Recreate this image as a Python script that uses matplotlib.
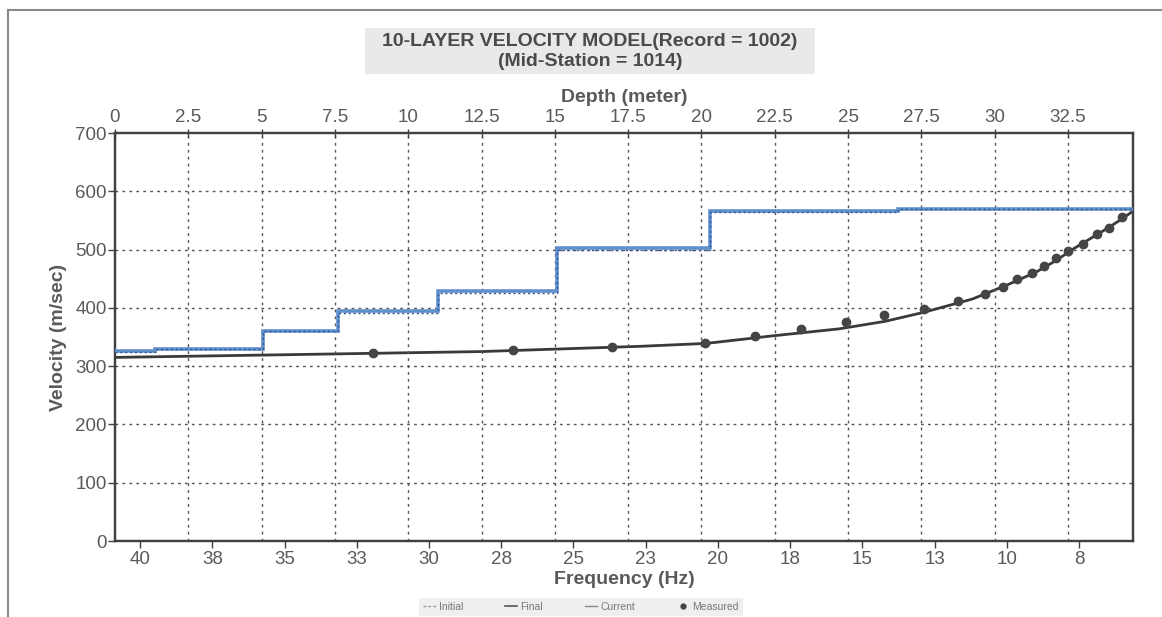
import matplotlib
matplotlib.use("Agg")
import matplotlib.pyplot as plt
from matplotlib.lines import Line2D
from matplotlib.patches import Rectangle

plt.rcParams['font.family'] = ['Liberation Sans', 'DejaVu Sans']

# ---- data ----
# layered velocity model (depth in m, velocity in m/s), steps-post
model_depth = [0, 1.36, 5.05, 7.6, 11.0, 15.07, 20.3, 26.7, 34.72]
final_vel = [326, 330, 361, 394, 429, 503, 566, 570, 570]
current_vel = [325, 329, 360, 391, 426, 500, 565, 569, 569]

# theoretical dispersion curve (frequency Hz, phase velocity m/s)
curve_freq = [40.87, 34.46, 28.2, 22.7, 20.4, 18.1, 15.8, 14.2, 12.9, 11.2,
              10.0, 9.0, 8.3, 7.7, 7.1, 6.5, 6.0, 5.63]
curve_vel = [315, 320, 325, 334, 339, 352, 364, 377, 392, 415,
             439, 461, 481, 501, 519, 537, 553, 566]

# measured dispersion points
meas_freq = [31.93, 27.09, 23.66, 20.44, 18.71, 17.12, 15.56, 14.25, 12.86,
             11.69, 10.75, 10.13, 9.64, 9.12, 8.71, 8.29, 7.88, 7.36, 6.87,
             6.46, 6.01]
meas_vel = [322, 327, 332, 339, 351, 363, 375, 387, 398, 411, 423, 436, 450,
            460, 471, 485, 497, 510, 526, 537, 556]

freq_ticks = [40, 37.5, 35, 32.5, 30, 27.5, 25, 22.5, 20, 17.5, 15, 12.5, 10, 7.5]
freq_labels = ['40', '38', '35', '33', '30', '28', '25', '23', '20', '18',
               '15', '13', '10', '8']
depth_ticks = [0, 2.5, 5, 7.5, 10, 12.5, 15, 17.5, 20, 22.5, 25, 27.5, 30, 32.5]
depth_labels = ['0', '2.5', '5', '7.5', '10', '12.5', '15', '17.5', '20',
                '22.5', '25', '27.5', '30', '32.5']
vel_ticks = [0, 100, 200, 300, 400, 500, 600, 700]

# ---- figure ----
W, H = 1162, 617
fig = plt.figure(figsize=(W / 100, H / 100), dpi=100)
fig.patch.set_facecolor('white')

L, R, T, B = 115, 1133, 133, 541
ax = fig.add_axes([L / W, 1 - B / H, (R - L) / W, (B - T) / H])
axd = ax.twiny()

text_gray = '#5a5a5a'
spine_col = '#404040'

ax.set_xlim(40.87, 5.63)
ax.set_ylim(0, 700)
axd.set_xlim(0, 34.72)

# grid
for v in vel_ticks[1:-1]:
    ax.axhline(v, color='#555555', lw=1.0, ls=(0, (2, 3)), zorder=1)
for d in depth_ticks[1:]:
    axd.axvline(d, color='#555555', lw=1.0, ls=(0, (2, 3)), zorder=1)

# velocity model
axd.plot(model_depth, final_vel, drawstyle='steps-post', color='#6090cc',
         lw=2.6, zorder=3, solid_joinstyle='miter')
axd.plot(model_depth, current_vel, drawstyle='steps-post', color='#34558f',
         lw=1.0, ls=(0, (1.5, 2)), zorder=4)

# dispersion curve and measured points
ax.plot(curve_freq, curve_vel, color='#3a3a3a', lw=2.0, zorder=5)
ax.plot(meas_freq, meas_vel, 'o', color='#454545', ms=6, zorder=6)

# ticks
ax.set_xticks(freq_ticks)
ax.set_xticklabels(freq_labels)
ax.set_yticks(vel_ticks)
axd.set_xticks(depth_ticks)
axd.set_xticklabels(depth_labels)

ax.tick_params(axis='x', direction='out', length=5, width=1, color=spine_col,
               labelsize=13.5, labelcolor=text_gray, pad=2)
ax.tick_params(axis='y', direction='out', length=5, width=1, color=spine_col,
               labelsize=13.5, labelcolor=text_gray, pad=1)
axd.tick_params(axis='x', direction='inout', length=6, width=1, color=spine_col,
                labelsize=13.5, labelcolor=text_gray, pad=2)

for a in (ax, axd):
    for s in a.spines.values():
        s.set_color(spine_col)
        s.set_linewidth(1.6)

ax.set_xlabel('Frequency (Hz)', fontsize=14, fontweight='bold',
              color=text_gray, labelpad=2)
ax.set_ylabel('Velocity (m/sec)', fontsize=14, fontweight='bold',
              color=text_gray, labelpad=6)
axd.set_xlabel('Depth (meter)', fontsize=14, fontweight='bold',
               color=text_gray, labelpad=5)

# title with grey box
fig.patches.append(Rectangle((365 / W, 1 - 74 / H), 450 / W, 46 / H,
                             transform=fig.transFigure, facecolor='#e9e9e9',
                             edgecolor='none', zorder=0))
fig.text(590 / W, 1 - 42 / H, '10-LAYER VELOCITY MODEL(Record = 1002)',
         ha='center', va='center', fontsize=14, fontweight='bold',
         color='#4a4a4a')
fig.text(590 / W, 1 - 62 / H, '(Mid-Station = 1014)', ha='center',
         va='center', fontsize=14, fontweight='bold', color='#4a4a4a')

# outer frame lines
fig.add_artist(Line2D([8 / W, 8 / W], [0, 1 - 10 / H], transform=fig.transFigure,
                      color='#8a8a8a', lw=1.5))
fig.add_artist(Line2D([8 / W, 1], [1 - 10 / H, 1 - 10 / H],
                      transform=fig.transFigure, color='#8a8a8a', lw=1.5))

# legend
handles = [
    Line2D([], [], color='#9a9a9a', lw=1, ls=(0, (2, 1.5))),
    Line2D([], [], color='#555555', lw=1.2),
    Line2D([], [], color='#888888', lw=1),
    Line2D([], [], color='#444444', marker='o', ls='none', ms=3.5),
]
leg = fig.legend(handles, ['Initial', 'Final', 'Current', 'Measured'],
                 loc='center', bbox_to_anchor=(581 / W, 1 - 607 / H), ncol=4,
                 fontsize=7.5, handlelength=1.2, handletextpad=0.3,
                 columnspacing=4.0, frameon=True, facecolor='#ececec',
                 edgecolor='none', fancybox=False, borderpad=0.35,
                 labelcolor='#777777')

fig.savefig('out.png', dpi=100)
